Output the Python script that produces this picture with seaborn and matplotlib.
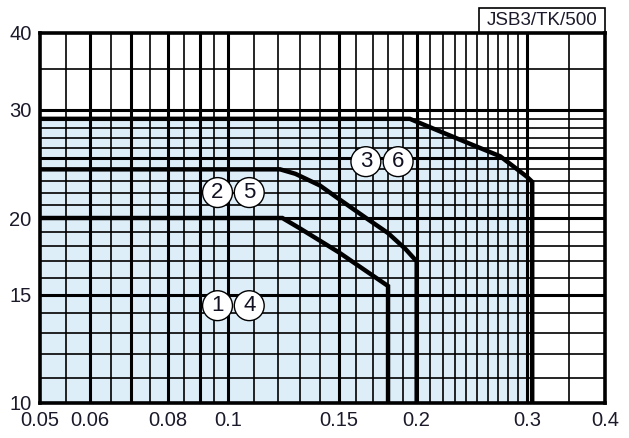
import matplotlib
matplotlib.use("Agg")
import matplotlib.pyplot as plt
from matplotlib.patches import Rectangle
import pandas as pd
import seaborn as sns

sns.set_style("white")
plt.rcParams['font.family'] = ['Liberation Sans', 'DejaVu Sans']

# curves (x, y) on log-log axes
c14_x = [0.05, 0.122, 0.13, 0.15, 0.18, 0.18]
c14_y = [20, 20, 19.25, 17.6, 15.5, 10]
c25_x = [0.05, 0.121, 0.128, 0.14, 0.15, 0.166, 0.18, 0.192, 0.2, 0.2]
c25_y = [24, 24, 23.6, 22.6, 21.5, 20.0, 18.9, 17.8, 17.0, 10]
c36_x = [0.05, 0.195, 0.235, 0.272, 0.3, 0.306, 0.306]
c36_y = [29.0, 29.0, 26.8, 25.2, 23.35, 22.9, 10]

label_text = [("1", "4"), ("2", "5"), ("3", "6")]
label_x = [(0.0961, 0.108), (0.0961, 0.108), (0.1659, 0.1868)]
label_y = [14.4, 22.0, 24.7]

x_ticks = [0.05, 0.06, 0.08, 0.1, 0.15, 0.2, 0.3, 0.4]
x_ticklabels = ["0.05", "0.06", "0.08", "0.1", "0.15", "0.2", "0.3", "0.4"]
y_ticks = [10, 15, 20, 30, 40]
y_ticklabels = ["10", "15", "20", "30", "40"]

x_major_grid = [0.06, 0.07, 0.08, 0.09, 0.1, 0.15, 0.2, 0.3]
x_minor_grid = [0.055, 0.065, 0.075, 0.085, 0.095, 0.11, 0.12, 0.13, 0.14,
                0.16, 0.17, 0.18, 0.19, 0.21, 0.22, 0.23, 0.24, 0.25, 0.26,
                0.27, 0.28, 0.29, 0.35]
y_major_grid = [15, 20, 25, 30]
y_minor_grid = [11, 12, 13, 14, 16, 17, 18, 19, 21, 22, 23, 24,
                26, 27, 28, 29, 35]

title = "JSB3/TK/500"

rows = []
for name, xs, ys in [("14", c14_x, c14_y), ("25", c25_x, c25_y), ("36", c36_x, c36_y)]:
    for i, (a, b) in enumerate(zip(xs, ys)):
        rows.append({"curve": name, "order": i, "x": a, "y": b})
df = pd.DataFrame(rows)

fig = plt.figure(figsize=(6.29, 4.38), dpi=100)
ax = fig.add_axes([40 / 629, 35 / 438, 565 / 629, 370 / 438])
ax.set_xscale("log")
ax.set_yscale("log")
ax.set_xlim(0.05, 0.4)
ax.set_ylim(10, 40)

ax.fill_between(c36_x, c36_y, 10, color="#deeef9", lw=0, zorder=0)

for v in x_minor_grid:
    ax.axvline(v, color="black", lw=1.2, zorder=1)
for v in x_major_grid:
    ax.axvline(v, color="black", lw=2.2, zorder=1)
for v in y_minor_grid:
    ax.axhline(v, color="black", lw=1.2, zorder=1)
for v in y_major_grid:
    ax.axhline(v, color="black", lw=2.2, zorder=1)

sns.lineplot(data=df, x="x", y="y", hue="curve", units="curve", estimator=None,
             sort=False, palette=["black"] * 3, lw=3.2, legend=False, ax=ax,
             zorder=3)
for ln in ax.lines[-3:]:
    ln.set_solid_joinstyle("miter")

for (t1, t2), (x1, x2), yy in zip(label_text, label_x, label_y):
    for t, xx in [(t1, x1), (t2, x2)]:
        ax.text(xx, yy, t, ha="center", va="center", fontsize=16, zorder=5,
                color="#111122",
                bbox=dict(boxstyle="circle,pad=0.2", fc="white", ec="black", lw=1.0))

ax.set_xticks(x_ticks)
ax.set_xticklabels(x_ticklabels)
ax.set_xticks([], minor=True)
ax.set_yticks(y_ticks)
ax.set_yticklabels(y_ticklabels)
ax.set_yticks([], minor=True)
ax.tick_params(axis="both", length=0, labelsize=14.5, colors="#1a1a2a")
ax.tick_params(axis="x", pad=6)
ax.tick_params(axis="y", pad=6)
ax.set_xlabel("")
ax.set_ylabel("")
for s in ax.spines.values():
    s.set_linewidth(2.6)
    s.set_color("black")
    s.set_zorder(6)

bw, bh = 126 / 565, 25 / 370
ax.add_patch(Rectangle((1 - bw, 1), bw, bh, transform=ax.transAxes, fill=False,
                       ec="black", lw=1.2, clip_on=False))
ax.text(1 - bw / 2, 1 + bh / 2, title, transform=ax.transAxes, ha="center",
        va="center", fontsize=13.5, color="#1a1a2a")

fig.savefig("out.png", dpi=100)
